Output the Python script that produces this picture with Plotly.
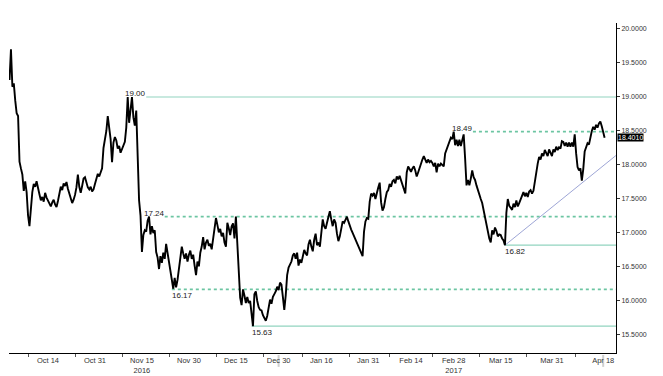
import pandas as pd
import plotly.graph_objects as go

# ---- price series: three readings per trading day (00:00, 08:00, 16:00) ----
oct_2016 = [
    19.25, 19.70, 19.15,  19.20, 18.95, 18.76,  18.72, 18.05, 17.95,  17.86, 17.62, 17.76,
    17.60, 17.26, 17.10,  17.36, 17.60, 17.72,  17.68, 17.76, 17.64,  17.57, 17.48, 17.53,
    17.46, 17.59, 17.52,  17.47, 17.43, 17.39,  17.45, 17.49, 17.42,  17.38, 17.47, 17.60,
    17.68, 17.63, 17.73,  17.69, 17.75, 17.65,  17.58, 17.49, 17.44,  17.49, 17.56, 17.67,
    17.86, 17.68, 17.59,  17.69, 17.80, 17.82,  17.73, 17.67, 17.64,  17.68, 17.61, 17.64,
    17.72, 17.81, 17.87,
]
nov_2016 = [
    17.83, 17.90, 17.95,  18.25, 18.38, 18.50,  18.72, 18.58, 18.38,  18.04, 18.33, 18.41,
    18.36, 18.24, 18.28,  18.18, 18.24, 18.28,  18.34, 18.55, 19.00,  18.62, 18.80, 19.00,
    18.70, 18.58, 18.80,  18.15, 17.48, 17.26,  16.72, 16.97, 17.04,  17.02, 17.18, 17.24,
    16.98, 17.10, 17.00,  17.04, 16.72, 16.64,  16.47, 16.66, 16.56,  16.71, 16.62, 16.84,
    16.72, 16.58, 16.47,  16.36, 16.18, 16.34,  16.20, 16.31, 16.46,  16.66, 16.80, 16.70,
    16.62, 16.70, 16.58,  16.68, 16.74, 16.62,
]
dec_2016 = [
    16.68, 16.52, 16.38,  16.58, 16.51, 16.71,  16.80, 16.94, 16.76,  16.86, 16.90, 16.81,
    16.84, 16.76, 16.92,  17.12, 17.22, 17.12,  17.01, 17.06, 16.95,  17.00, 16.86, 16.80,
    17.15, 17.07, 16.97,  17.10, 17.14, 16.92,  17.24, 16.85, 16.45,  16.05, 15.94, 16.17,
    16.08, 15.97, 16.06,  15.97, 16.00, 15.82,  15.63, 16.10, 16.14,  16.00, 15.91, 15.87,
    15.86, 15.79, 15.75,  15.71, 15.78, 15.90,  16.02, 15.96, 16.06,  16.10, 16.14, 16.21,
    16.16, 16.27, 16.24,
]
jan_2017 = [
    16.06, 15.87, 16.08,  16.38, 16.49, 16.53,  16.58, 16.67, 16.70,  16.62, 16.71, 16.52,
    16.61, 16.56, 16.66,  16.75, 16.70, 16.67,  16.83, 16.90, 16.80,  16.73, 16.90, 16.99,
    16.82, 16.86, 16.80,  17.05, 17.20, 17.10,  17.06, 17.15, 17.23,  17.32, 17.20, 17.10,
    17.20, 17.15, 16.99,  16.88, 16.95, 17.08,  17.17, 17.15, 17.21,  17.24, 17.17, 17.10,
    17.05, 17.00, 16.95,  16.90, 16.85, 16.79,  16.74, 16.70, 16.66,  17.02, 17.17, 17.22,
    17.21, 17.46, 17.58,
]
feb_2017 = [
    17.55, 17.59, 17.50,  17.60, 17.67, 17.74,  17.45, 17.33, 17.38,  17.50, 17.60, 17.63,
    17.72, 17.68, 17.76,  17.78, 17.73, 17.83,  17.79, 17.84, 17.77,  17.70, 17.63, 17.58,
    17.89, 17.98, 17.94,  17.90, 17.95, 17.98,  17.92, 17.83, 17.89,  17.96, 18.01, 18.08,
    18.13, 18.08, 18.03,  18.08, 18.04, 18.06,  18.03, 17.98, 18.03,  17.89, 18.02, 17.98,
    18.02, 18.00, 17.98,  18.17, 18.23, 18.31,  18.35, 18.40, 18.38,  18.49, 18.29, 18.37,
]
mar_2017 = [
    18.28, 18.37, 18.28,  18.35, 18.45, 18.10,  17.70, 17.78, 17.70,  17.80, 17.92, 17.82,
    17.78, 17.70, 17.62,  17.54, 17.50, 17.44,  17.33, 17.24, 17.16,  17.04, 16.92, 16.86,
    17.04, 16.98, 17.08,  17.03, 16.95, 16.98,  16.97, 16.92, 16.89,  16.82, 17.30, 17.50,
    17.40, 17.37, 17.34,  17.43, 17.38, 17.48,  17.39, 17.44, 17.50,  17.55, 17.60, 17.54,
    17.59, 17.53, 17.61,  17.63, 17.58, 17.62,  17.78, 17.92, 18.02,  18.12, 18.08, 18.17,
    18.13, 18.22, 18.18,  18.13, 18.23, 18.17,  18.13, 18.23, 18.19,
]
apr_2017 = [
    18.27, 18.22, 18.26,  18.24, 18.35, 18.34,  18.28, 18.33, 18.27,  18.33, 18.27, 18.33,
    18.27, 18.45, 18.17,  17.97, 17.92, 17.95,  17.77, 17.94, 18.20,  18.28, 18.32, 18.30,
    18.43, 18.50, 18.56,  18.52, 18.59, 18.55,  18.61, 18.64, 18.57,  18.47, 18.401,
]
price = oct_2016 + nov_2016 + dec_2016 + jan_2017 + feb_2017 + mar_2017 + apr_2017
last_price = 18.401

holidays = ["2016-12-26", "2017-01-02"]
days = pd.bdate_range("2016-10-03", "2017-04-18")
days = days[~days.isin(pd.to_datetime(holidays))]
stamps = [d + pd.Timedelta(hours=h) for d in days for h in (0, 8, 16)][:len(price)]

# ---- annotated levels ----
level_values = [19.00, 18.49, 17.24, 16.17, 15.63, 16.82]
level_labels = ["19.00", "18.49", "17.24", "16.17", "15.63", "16.82"]
level_starts = ["2016-11-16", "2017-03-06 12:00", "2016-11-22 08:00",
                "2016-11-24", "2016-12-20 16:00", "2017-03-16"]
level_dash = ["solid", "3px,3px", "3px,3px", "3px,3px", "solid", "solid"]
level_label_pos = ["left", "left", "left", "below", "below", "below"]
x_end = "2017-04-21"

trend_dates = ["2017-03-16", "2017-04-21"]
trend_values = [16.82, 18.14]

# ---- axis ticks ----
x_tick_dates = ["2016-10-14", "2016-10-31", "2016-11-15", "2016-11-30", "2016-12-15",
                "2016-12-30", "2017-01-16", "2017-01-31", "2017-02-14", "2017-02-28",
                "2017-03-15", "2017-03-31", "2017-04-18"]
x_tick_text = ["Oct 14", "Oct 31", "Nov 15<br>2016", "Nov 30", "Dec 15", "Dec 30",
               "Jan 16", "Jan 31", "Feb 14", "Feb 28<br>2017", "Mar 15", "Mar 31", "Apr 18"]
x_mark_dates = ["2016-10-07 12:00", "2016-10-24 12:00", "2016-11-08 12:00", "2016-11-23 12:00",
                "2016-12-08 12:00", "2016-12-23 12:00", "2017-01-09 12:00", "2017-01-24 12:00",
                "2017-02-07", "2017-02-21", "2017-03-08", "2017-03-23", "2017-04-07 12:00"]
marker_dates = ["2016-12-30", "2017-04-18"]
y_ticks = [15.5, 16.0, 16.5, 17.0, 17.5, 18.0, 18.5, 19.0, 19.5, 20.0]

FONT = "Liberation Sans Narrow, Liberation Sans, Arial, sans-serif"
SOLID_C = "#92d4bf"
DASH_C = "#6cc5a2"

fig = go.Figure()

for v, s, d in zip(level_values, level_starts, level_dash):
    fig.add_trace(go.Scatter(x=[s, x_end], y=[v, v], mode="lines",
                             line=dict(color=SOLID_C if d == "solid" else DASH_C,
                                       width=1.2 if d == "solid" else 1.6, dash=d),
                             hoverinfo="skip", showlegend=False))

fig.add_trace(go.Scatter(x=trend_dates, y=trend_values, mode="lines",
                         line=dict(color="#9ea6d6", width=1), hoverinfo="skip",
                         showlegend=False))

fig.add_trace(go.Scatter(x=stamps, y=price, mode="lines",
                         line=dict(color="#000000", width=1.9), showlegend=False))

for v, lab, s, pos in zip(level_values, level_labels, level_starts, level_label_pos):
    if pos == "left":
        fig.add_annotation(x=s, y=v, text=lab, showarrow=False, xanchor="right",
                           yanchor="middle", yshift=3, xshift=1, borderpad=0,
                           font=dict(family=FONT, size=8, color="#222"))
    else:
        fig.add_annotation(x=s, y=v, text=lab, showarrow=False, xanchor="left",
                           yanchor="top", yshift=-1, xshift=-1, borderpad=0,
                           font=dict(family=FONT, size=8, color="#222"))

fig.add_annotation(xref="paper", x=1, y=last_price, text="18.4010", showarrow=False,
                   xanchor="left", yanchor="middle", xshift=1, bgcolor="#000000",
                   borderpad=0, font=dict(family=FONT, size=7, color="#ffffff"))

for d in marker_dates:
    fig.add_shape(type="line", xref="x", yref="paper", x0=d, x1=d, y0=-0.006, y1=-0.042,
                  line=dict(color="#cfcfcf", width=2), layer="below")

# the page body adds an 8px offset, so the figure is sized to fill the rest of the window
fig.update_layout(
    width=655, height=368,
    margin=dict(l=1, r=47, t=15, b=23),
    paper_bgcolor="#ffffff", plot_bgcolor="#ffffff",
    showlegend=False,
    xaxis=dict(
        type="date",
        range=["2016-09-30 21:00", "2017-04-21"],
        rangebreaks=[dict(bounds=["sat", "mon"]), dict(values=holidays)],
        tickmode="array", tickvals=x_tick_dates, ticktext=x_tick_text,
        ticks="", showgrid=False, zeroline=False,
        showline=True, linecolor="#000000", linewidth=1,
        tickfont=dict(family=FONT, size=7.5, color="#333"),
        minor=dict(tickmode="array", tickvals=x_mark_dates, ticks="outside",
                   ticklen=3, tickcolor="#555", showgrid=False),
    ),
    yaxis=dict(
        side="right", range=[15.235, 20.088],
        tickmode="array", tickvals=y_ticks, tickformat=".4f",
        ticks="outside", ticklen=3, tickcolor="#333",
        showgrid=False, zeroline=False,
        showline=True, linecolor="#000000", linewidth=1,
        tickfont=dict(family=FONT, size=7, color="#333"),
    ),
)

fig.write_html("out.html")
